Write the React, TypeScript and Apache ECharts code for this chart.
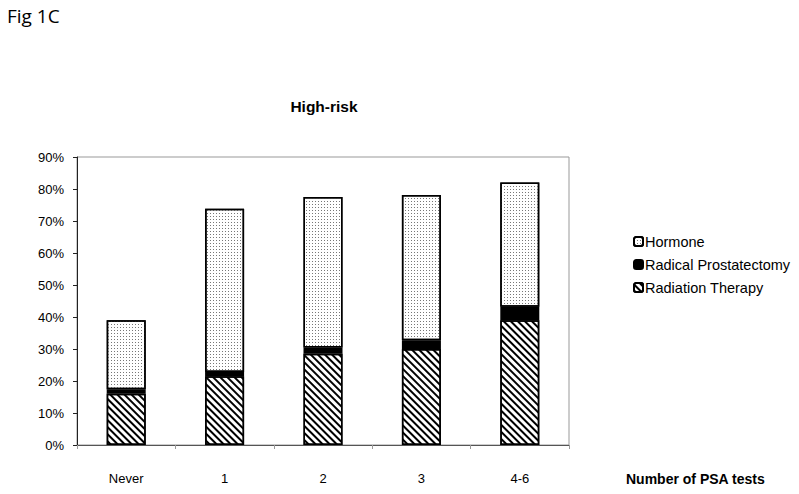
import React, { useEffect, useRef } from "react";
import * as echarts from "echarts";

const categories = ["Never", "1", "2", "3", "4-6"];
const radiationTherapy = [16, 21.5, 28.5, 30, 39];
const radicalProstatectomy = [1.4, 1.3, 2, 2.7, 4.2];
const hormone = [21.6, 51, 47, 45.4, 38.8];
const yTicks = { min: 0, max: 90, interval: 10 };

const FONT = "Liberation Sans";

export default function App() {
  const ref = useRef<HTMLDivElement>(null);
  useEffect(() => {
    if (!ref.current) return;
    const chart = echarts.init(ref.current, null, { renderer: "svg" });
    const border = { borderColor: "#000", borderWidth: 1.5 };
    chart.setOption({
      animation: false,
      backgroundColor: "#fff",
      textStyle: { fontFamily: FONT, color: "#000" },
      graphic: [
        {
          type: "text",
          left: 7,
          top: 6,
          style: { text: "Fig 1C", fontSize: 19, fontFamily: "Open Sans", fill: "#000" },
        },
      ],
      title: {
        text: "High-risk",
        left: 319,
        textAlign: "center",
        top: 93,
        textStyle: { fontSize: 15.5, fontWeight: "bold", fontFamily: FONT, color: "#000" },
      },
      legend: {
        orient: "vertical",
        left: 628,
        top: 229,
        itemWidth: 9,
        itemHeight: 9,
        itemGap: 8,
        textStyle: { fontSize: 14.5, fontFamily: FONT, color: "#000", padding: [0, 0, 0, -3] },
        data: ["Hormone", "Radical Prostatectomy", "Radiation Therapy"],
      },
      grid: {
        left: 77,
        right: 230,
        top: 157,
        bottom: 49,
        show: true,
        borderColor: "#999",
        borderWidth: 1,
      },
      xAxis: {
        type: "category",
        data: categories,
        name: "Number of PSA tests",
        nameLocation: "end",
        nameGap: 0,
        nameTextStyle: {
          fontSize: 14,
          fontWeight: "bold",
          fontFamily: FONT,
          color: "#000",
          align: "left",
          verticalAlign: "top",
          padding: [27, 0, 0, 57],
        },
        axisLine: { lineStyle: { color: "#555", width: 1 } },
        axisTick: { show: true, length: 4, lineStyle: { color: "#999" } },
        axisLabel: { fontSize: 13, fontFamily: FONT, color: "#000", margin: 27 },
      },
      yAxis: {
        type: "value",
        min: yTicks.min,
        max: yTicks.max,
        interval: yTicks.interval,
        axisLine: { show: true, lineStyle: { color: "#222", width: 1 } },
        axisTick: { show: true, length: 4, lineStyle: { color: "#222" } },
        splitLine: { show: false },
        axisLabel: { formatter: "{value}%", fontSize: 13, fontFamily: FONT, color: "#000", margin: 13 },
      },
      series: [
        {
          name: "Radiation Therapy",
          type: "bar",
          stack: "total",
          barWidth: 39,
          data: radiationTherapy,
          itemStyle: {
            color: "#fff",
            ...border,
            decal: {
              symbol: "rect",
              symbolSize: 1,
              color: "#000",
              backgroundColor: "#fff",
              dashArrayX: [1, 0],
              dashArrayY: [2, 2.5],
              rotation: Math.PI / 4,
            },
          },
        },
        {
          name: "Radical Prostatectomy",
          type: "bar",
          stack: "total",
          barWidth: 39,
          data: radicalProstatectomy,
          itemStyle: { color: "#000", ...border },
        },
        {
          name: "Hormone",
          type: "bar",
          stack: "total",
          barWidth: 39,
          data: hormone,
          itemStyle: {
            color: "#fff",
            ...border,
            decal: {
              symbol: "rect",
              symbolSize: 1,
              color: "#777",
              backgroundColor: "#fff",
              dashArrayX: [1, 2],
              dashArrayY: [1, 2],
              rotation: 0,
            },
          },
        },
      ],
    });
    return () => chart.dispose();
  }, []);
  return (
    <div
      ref={ref}
      style={{ position: "absolute", left: 0, top: 0, width: 799, height: 494, background: "#fff" }}
    />
  );
}
